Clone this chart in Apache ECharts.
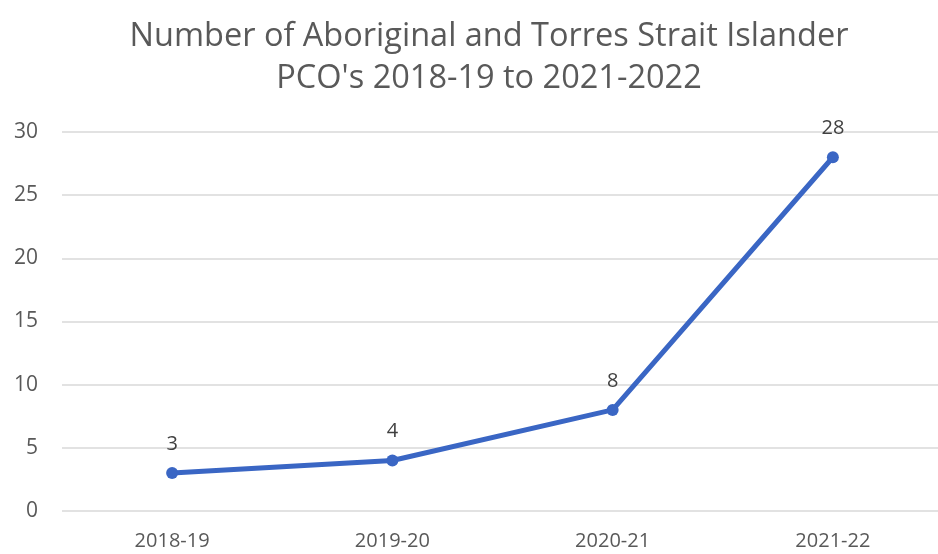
<!DOCTYPE html>
<html>
<head>
<meta charset="utf-8">
<script src="https://cdn.jsdelivr.net/npm/echarts@6/dist/echarts.min.js"></script>
<style>html,body{margin:0;padding:0;background:#fff;}#c{width:938px;height:554px;}</style>
</head>
<body>
<div id="c"></div>
<script>
const categories = ['2018-19', '2019-20', '2020-21', '2021-22'];
const values = [3, 4, 8, 28];
const yTicks = [0, 5, 10, 15, 20, 25, 30];
const titleLines = ['Number of Aboriginal and Torres Strait Islander', "PCO's 2018-19 to 2021-2022"];

const chart = echarts.init(document.getElementById('c'));
chart.setOption({
  backgroundColor: '#ffffff',
  animation: false,
  title: {
    text: titleLines.join('\n'),
    left: 484,
    textAlign: 'center',
    top: 11,
    textStyle: { fontFamily: 'Open Sans', fontSize: 32.5, fontWeight: 'normal', color: '#595959', lineHeight: 42 }
  },
  grid: { left: 62, width: 881, top: 132, bottom: 43, containLabel: false, outerBoundsMode: 'none' },
  xAxis: {
    type: 'category',
    data: categories,
    boundaryGap: true,
    axisLine: { show: false },
    axisTick: { show: false },
    axisLabel: { color: '#595959', fontFamily: 'Open Sans', fontSize: 20, margin: 20 }
  },
  yAxis: {
    type: 'value',
    min: yTicks[0],
    max: yTicks[yTicks.length - 1],
    interval: 5,
    axisLine: { show: false },
    axisTick: { show: false },
    axisLabel: { color: '#595959', fontFamily: 'Open Sans', fontSize: 21, margin: 24 },
    splitLine: { lineStyle: { color: '#d9d9d9', width: 1.5 } }
  },
  series: [{
    type: 'line',
    data: values,
    symbol: 'circle',
    symbolSize: 12,
    lineStyle: { color: '#3a66c4', width: 5 },
    itemStyle: { color: '#3a66c4' },
    label: { show: true, position: 'top', distance: 13, color: '#404040', fontFamily: 'Open Sans', fontSize: 20 }
  }]
});
</script>
</body>
</html>
